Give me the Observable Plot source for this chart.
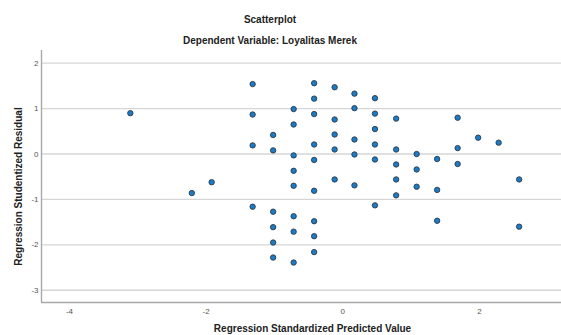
<!DOCTYPE html>
<html>
<head>
<meta charset="utf-8">
<script src="https://cdn.jsdelivr.net/npm/d3@7"></script>
<script src="https://cdn.jsdelivr.net/npm/@observablehq/plot@0.6"></script>
<style>
  body { margin: 0; background: white; font-family: "Liberation Sans", Arial, sans-serif; }
  #wrap { width: 561px; height: 335px; position: relative; overflow: hidden; }
  #head { position: relative; height: 46px; }
  .t { position: absolute; left: 0; width: 540px; text-align: center; font-weight: bold; font-size: 10px; line-height: 12px; color: #222; }
  svg { display: block; }
</style>
</head>
<body>
<div id="wrap">
  <div id="head">
    <div class="t" style="top:14px">Scatterplot</div>
    <div class="t" style="top:35px">Dependent Variable: Loyalitas Merek</div>
  </div>
</div>
<script>
// Regression Standardized Predicted Value
const predicted = [
  -3.11, -2.21, -1.92,
  -1.32, -1.32, -1.32, -1.32,
  -1.02, -1.02, -1.02, -1.02, -1.02, -1.02,
  -0.72, -0.72, -0.72, -0.72, -0.72, -0.72, -0.72, -0.72,
  -0.42, -0.42, -0.42, -0.42, -0.42, -0.42, -0.42, -0.42, -0.42,
  -0.12, -0.12, -0.12, -0.12, -0.12,
  0.17, 0.17, 0.17, 0.17, 0.17,
  0.47, 0.47, 0.47, 0.47, 0.47, 0.47,
  0.78, 0.78, 0.78, 0.78, 0.78,
  1.08, 1.08, 1.08,
  1.38, 1.38, 1.38,
  1.68, 1.68, 1.68,
  1.98, 2.28,
  2.58, 2.58
];
// Regression Studentized Residual
const residual = [
  0.90, -0.86, -0.62,
  1.54, 0.87, 0.19, -1.16,
  0.42, 0.08, -1.27, -1.61, -1.95, -2.28,
  0.99, 0.65, -0.03, -0.37, -0.70, -1.37, -1.71, -2.39,
  1.56, 1.22, 0.88, 0.21, -0.13, -0.81, -1.48, -1.81, -2.16,
  1.47, 0.76, 0.43, 0.10, -0.56,
  1.33, 1.01, 0.32, -0.01, -0.69,
  1.23, 0.89, 0.55, 0.21, -0.12, -1.13,
  0.78, 0.10, -0.23, -0.56, -0.91,
  0.00, -0.34, -0.72,
  -0.11, -0.79, -1.47,
  0.80, 0.13, -0.22,
  0.36, 0.25,
  -0.56, -1.60
];
const xTicks = [-4, -2, 0, 2];
const yTicks = [-3, -2, -1, 0, 1, 2];
const xDomain = [-4.41, 3.2];
const yDomain = [-3.27, 2.28];
const xTitle = "Regression Standardized Predicted Value";
const yTitle = "Regression Studentized Residual";

const points = predicted.map((x, i) => ({x, y: residual[i]}));

const chart = Plot.plot({
  width: 561,
  height: 289,
  marginTop: 4,
  marginBottom: 33,
  marginLeft: 41,
  marginRight: 0,
  x: {domain: xDomain},
  y: {domain: yDomain},
  style: {fontFamily: "'Liberation Sans', Arial, sans-serif", background: "white", overflow: "visible"},
  marks: [
    Plot.ruleY(yTicks, {stroke: "#d6d6d6", strokeWidth: 1.3}),
    Plot.ruleY([yDomain[0]], {stroke: "#a8a8a8", strokeWidth: 1.4}),
    Plot.ruleX([xDomain[0]], {stroke: "#a8a8a8", strokeWidth: 1.4}),
    Plot.axisY(yTicks, {tickSize: 0, tickPadding: 3, fontSize: 8, fill: "#555", tickFormat: d => String(d), label: null}),
    Plot.axisX(xTicks, {tickSize: 0, tickPadding: 6, fontSize: 8, fill: "#555", tickFormat: d => String(d), label: null}),
    Plot.dot(points, {x: "x", y: "y", r: 2.7, fill: "#1b7bc6", stroke: "#2b3a48", strokeWidth: 0.9}),
    Plot.text([xTitle], {frameAnchor: "bottom", textAnchor: "middle", dx: 11, dy: 29, fontSize: 10, fontWeight: "bold", fill: "#222"}),
    Plot.text([yTitle], {frameAnchor: "left", textAnchor: "middle", rotate: -90, dx: -23, dy: 10, fontSize: 10, fontWeight: "bold", fill: "#222"})
  ]
});
document.getElementById("wrap").appendChild(chart);
</script>
</body>
</html>
